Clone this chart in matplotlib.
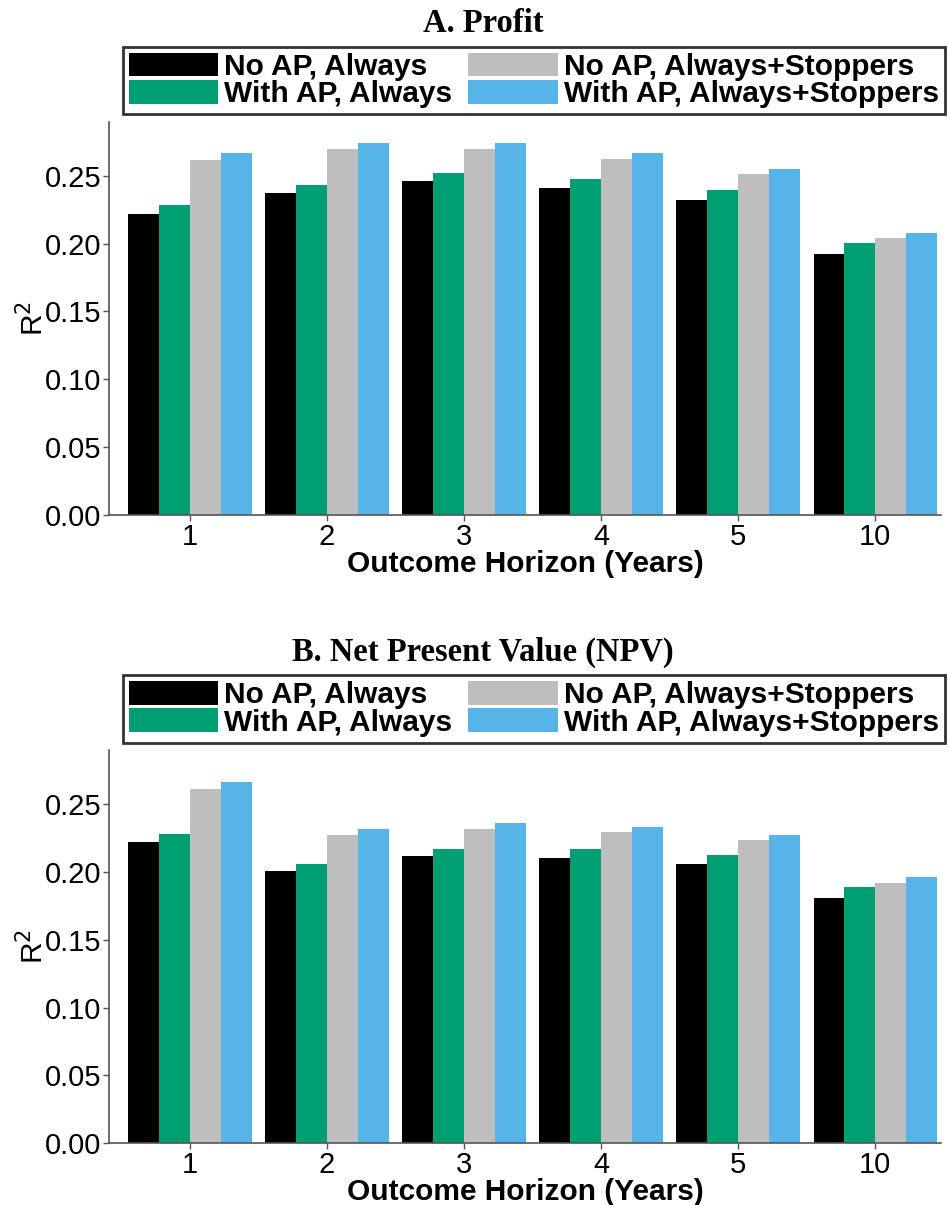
import matplotlib
matplotlib.use("Agg")
import matplotlib.pyplot as plt
from matplotlib.patches import Patch
import numpy as np

horizons = ["1", "2", "3", "4", "5", "10"]
series_names = ["No AP, Always", "With AP, Always", "No AP, Always+Stoppers", "With AP, Always+Stoppers"]
colors = ["#000000", "#009E73", "#BEBEBE", "#56B4E9"]

profit_no_ap_always = [0.222, 0.2375, 0.246, 0.2407, 0.232, 0.1926]
profit_ap_always = [0.2282, 0.2432, 0.2523, 0.2474, 0.2395, 0.2007]
profit_no_ap_stop = [0.2616, 0.270, 0.2697, 0.2623, 0.2513, 0.2039]
profit_ap_stop = [0.2665, 0.2741, 0.2739, 0.2665, 0.2552, 0.2080]

npv_no_ap_always = [0.2218, 0.2010, 0.2118, 0.2103, 0.2059, 0.1809]
npv_ap_always = [0.2279, 0.2061, 0.2171, 0.2166, 0.2125, 0.1885]
npv_no_ap_stop = [0.2612, 0.2274, 0.2318, 0.2296, 0.2235, 0.1921]
npv_ap_stop = [0.2659, 0.2316, 0.2357, 0.2331, 0.2269, 0.1960]

titles = ["A. Profit", "B. Net Present Value (NPV)"]

sans = "Liberation Sans"
serif = "Liberation Serif"

W, H = 949, 1205
fig = plt.figure(figsize=(W / 100, H / 100), dpi=100)

panels = [
    (titles[0], [profit_no_ap_always, profit_ap_always, profit_no_ap_stop, profit_ap_stop], 121.7, 515.0),
    (titles[1], [npv_no_ap_always, npv_ap_always, npv_no_ap_stop, npv_ap_stop], 750.0, 1143.3),
]

axis_col = "#555555"
bw = 0.225
x = np.arange(1, len(horizons) + 1)

for title, data, top, bot in panels:
    ax = fig.add_axes([109 / W, 1 - bot / H, (941 - 109) / W, (bot - top) / H])
    for i, (vals, c) in enumerate(zip(data, colors)):
        ax.bar(x + (i - 1.5) * bw, vals, width=bw, color=c, edgecolor="none", label=series_names[i])
    ax.set_xlim(0.41, 6.48)
    ax.set_ylim(0, 0.2898)
    ax.set_yticks([0, 0.05, 0.10, 0.15, 0.20, 0.25])
    ax.set_yticklabels(["0.00", "0.05", "0.10", "0.15", "0.20", "0.25"])
    ax.set_xticks(x)
    ax.set_xticklabels(horizons)
    for s in ["top", "right"]:
        ax.spines[s].set_visible(False)
    for s in ["left", "bottom"]:
        ax.spines[s].set_color(axis_col)
        ax.spines[s].set_linewidth(1.2)
    ax.tick_params(axis="both", colors=axis_col, length=4, width=1.0, labelcolor="black", labelsize=21)
    ax.tick_params(axis="x", pad=1.5)
    ax.tick_params(axis="y", pad=1.5)
    for lab in ax.get_xticklabels() + ax.get_yticklabels():
        lab.set_family(sans)
    ax.set_xlabel("Outcome Horizon (Years)", family=sans, fontweight="bold", fontsize=21.5)
    ax.xaxis.label.set_va("baseline")
    ax.xaxis.set_label_coords(0.5, -(572 - 515) / (bot - top))
    ax.set_ylabel("R$^2$", family=sans, fontsize=21.5)
    ax.yaxis.label.set_va("baseline")
    ax.yaxis.set_label_coords((43 - 109) / 832, 0.5)
    fig.text(483 / W, 1 - (top - 89.7) / H, title, family=serif, fontweight="bold", fontsize=23.5,
             ha="center", va="baseline")
    # legend
    lx0, ly0, lx1 = 122.7, top - 75.0, 945.0
    handles = [Patch(facecolor=c, edgecolor="none") for c in colors]
    leg = fig.legend(handles, series_names, ncol=2, loc="upper left", mode="expand",
                     bbox_to_anchor=(lx0 / W, 1 - ly0 / H, (lx1 - lx0) / W, 0.0),
                     prop={"family": sans, "weight": "bold", "size": 21.5},
                     frameon=True, fancybox=False, edgecolor="black",
                     handlelength=3.0, handleheight=0.85, handletextpad=0.2,
                     columnspacing=0.2, labelspacing=-0.03, borderpad=0.2, borderaxespad=0)
    leg.get_frame().set_linewidth(2)

fig.savefig("out.png", dpi=100)
